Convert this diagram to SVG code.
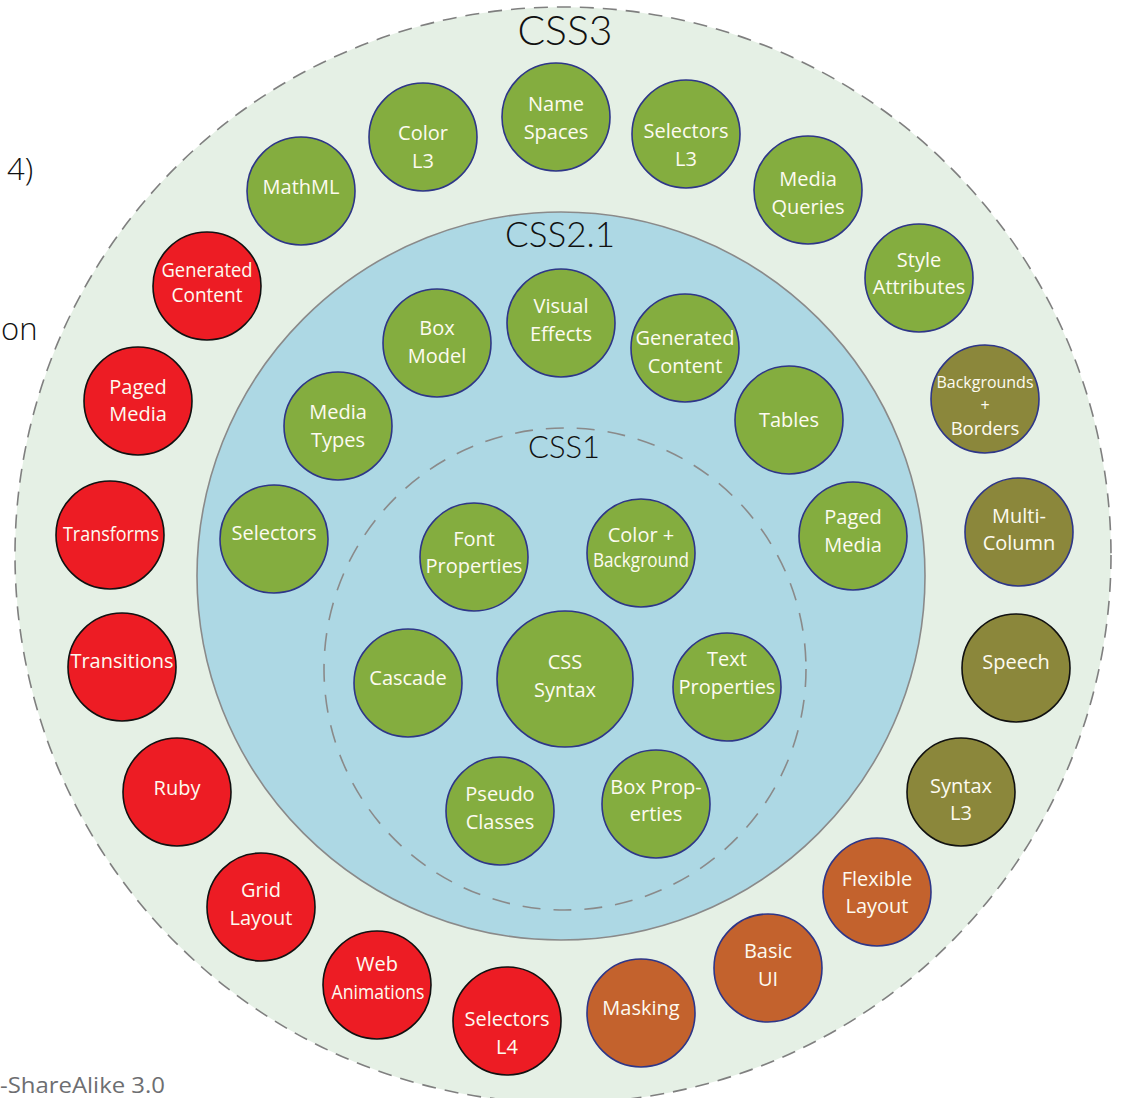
<svg xmlns="http://www.w3.org/2000/svg" width="1123" height="1098" viewBox="0 0 1123 1098">
<style>
.n{stroke:#2e3688;stroke-width:1.6}
.g{fill:#84ad3f}
.o{fill:#8b873b}
.r{fill:#ed1c24;stroke:#111}
.or{fill:#c3622d}
.k{stroke:#111}
text{font-family:"Open Sans","Liberation Sans",sans-serif}
.t{fill:#fdfbf0;font-size:20px;text-anchor:middle}
.h{font-family:Lato,"DejaVu Sans",sans-serif;font-weight:300;fill:#111;text-anchor:middle}
</style>
<rect width="1123" height="1098" fill="#fff"/>
<g id="css3-ring">
<circle cx="563" cy="555" r="548" fill="#e5f0e5" stroke="#7f7f7f" stroke-width="1.6" stroke-dasharray="14 9"/>
<text class="h" x="565" y="45" font-size="42" textLength="95" lengthAdjust="spacingAndGlyphs">CSS3</text>
</g>
<g id="css21-ring">
<circle cx="561" cy="576" r="364" fill="#add8e4" stroke="#8a8a8a" stroke-width="1.6"/>
<text class="h" x="560" y="247" font-size="35" textLength="110" lengthAdjust="spacingAndGlyphs">CSS2.1</text>
</g>
<g id="css1-ring">
<circle cx="565" cy="669" r="241" fill="none" stroke="#8a8a8a" stroke-width="1.6" stroke-dasharray="18 13"/>
<text class="h" x="564" y="458" font-size="32" textLength="72" lengthAdjust="spacingAndGlyphs">CSS1</text>
</g>
<g id="margin-text">
<text x="7" y="180" font-family="Lato,'DejaVu Sans',sans-serif" font-weight="300" font-size="31" fill="#111">4)</text>
<text x="1" y="340" font-family="Lato,'DejaVu Sans',sans-serif" font-weight="300" font-size="31" fill="#111">on</text>
<text x="0" y="1093" font-size="22" fill="#6d6e71" textLength="165" lengthAdjust="spacingAndGlyphs">-ShareAlike 3.0</text>
</g>
<!-- CSS3 nodes -->
<g id="mathml"><circle class="n g" cx="301" cy="191" r="54"/><text class="t" x="301" y="194">MathML</text></g>
<g id="color-l3"><circle class="n g" cx="423" cy="137" r="54"/><text class="t" x="423" y="140">Color</text><text class="t" x="423" y="168">L3</text></g>
<g id="name-spaces"><circle class="n g" cx="556" cy="117" r="54"/><text class="t" x="556" y="111">Name</text><text class="t" x="556" y="139">Spaces</text></g>
<g id="selectors-l3"><circle class="n g" cx="686" cy="134" r="54"/><text class="t" x="686" y="138">Selectors</text><text class="t" x="686" y="166">L3</text></g>
<g id="media-queries"><circle class="n g" cx="808" cy="190" r="54"/><text class="t" x="808" y="186">Media</text><text class="t" x="808" y="214">Queries</text></g>
<g id="style-attributes"><circle class="n g" cx="919" cy="278" r="54"/><text class="t" x="919" y="267">Style</text><text class="t" x="919" y="294">Attributes</text></g>
<g id="backgrounds-borders"><circle class="n o" cx="985" cy="399" r="54"/><text class="t"><tspan x="985" y="388" font-size="16" textLength="97" lengthAdjust="spacingAndGlyphs">Backgrounds</tspan><tspan x="985" y="411" font-size="16">+</tspan><tspan x="985" y="435" font-size="18.5">Borders</tspan></text></g>
<g id="multi-column"><circle class="n o" cx="1019" cy="532" r="54"/><text class="t" x="1019" y="523">Multi-</text><text class="t" x="1019" y="550">Column</text></g>
<g id="speech"><circle class="n o k" cx="1016" cy="668" r="54"/><text class="t" x="1016" y="669">Speech</text></g>
<g id="syntax-l3"><circle class="n o k" cx="961" cy="792" r="54"/><text class="t" x="961" y="793">Syntax</text><text class="t" x="961" y="820">L3</text></g>
<g id="flexible-layout"><circle class="n or" cx="877" cy="892" r="54"/><text class="t" x="877" y="886">Flexible</text><text class="t" x="877" y="913">Layout</text></g>
<g id="basic-ui"><circle class="n or" cx="768" cy="968" r="54"/><text class="t" x="768" y="958">Basic</text><text class="t" x="768" y="986">UI</text></g>
<g id="masking"><circle class="n or" cx="641" cy="1013" r="54"/><text class="t" x="641" y="1015">Masking</text></g>
<g id="selectors-l4"><circle class="n r" cx="507" cy="1021" r="54"/><text class="t" x="507" y="1026">Selectors</text><text class="t" x="507" y="1054">L4</text></g>
<g id="web-animations"><circle class="n r" cx="377" cy="985" r="54"/><text class="t" x="377" y="971">Web</text><text class="t" x="378" y="999" font-size="18.5" textLength="93" lengthAdjust="spacingAndGlyphs">Animations</text></g>
<g id="grid-layout"><circle class="n r" cx="261" cy="907" r="54"/><text class="t" x="261" y="897">Grid</text><text class="t" x="261" y="925">Layout</text></g>
<g id="ruby"><circle class="n r" cx="177" cy="792" r="54"/><text class="t" x="177" y="795">Ruby</text></g>
<g id="transitions"><circle class="n r" cx="122" cy="667" r="54"/><text class="t" x="122" y="668">Transitions</text></g>
<g id="transforms"><circle class="n r" cx="110" cy="535" r="54"/><text class="t" x="111" y="541" font-size="18" textLength="96" lengthAdjust="spacingAndGlyphs">Transforms</text></g>
<g id="paged-media-3"><circle class="n r" cx="138" cy="401" r="54"/><text class="t" x="138" y="394">Paged</text><text class="t" x="138" y="421">Media</text></g>
<g id="generated-content-3"><circle class="n r" cx="207" cy="286" r="54"/><text class="t" x="207" y="277" font-size="18.5" textLength="91" lengthAdjust="spacingAndGlyphs">Generated</text><text class="t" x="207" y="302" font-size="18.5" textLength="71" lengthAdjust="spacingAndGlyphs">Content</text></g>
<!-- CSS2.1 nodes -->
<g id="box-model"><circle class="n g" cx="437" cy="343" r="54"/><text class="t" x="437" y="335">Box</text><text class="t" x="437" y="363">Model</text></g>
<g id="visual-effects"><circle class="n g" cx="561" cy="323" r="54"/><text class="t" x="561" y="313">Visual</text><text class="t" x="561" y="341">Effects</text></g>
<g id="generated-content-21"><circle class="n g" cx="685" cy="348" r="54"/><text class="t" x="685" y="345">Generated</text><text class="t" x="685" y="373">Content</text></g>
<g id="media-types"><circle class="n g" cx="338" cy="426" r="54"/><text class="t" x="338" y="419">Media</text><text class="t" x="338" y="447">Types</text></g>
<g id="tables"><circle class="n g" cx="789" cy="420" r="54"/><text class="t" x="789" y="427">Tables</text></g>
<g id="selectors-21"><circle class="n g" cx="274" cy="539" r="54"/><text class="t" x="274" y="540">Selectors</text></g>
<g id="paged-media-21"><circle class="n g" cx="853" cy="536" r="54"/><text class="t" x="853" y="524">Paged</text><text class="t" x="853" y="552">Media</text></g>
<!-- CSS1 nodes -->
<g id="font-properties"><circle class="n g" cx="474" cy="557" r="54"/><text class="t" x="474" y="546">Font</text><text class="t" x="474" y="573">Properties</text></g>
<g id="color-background"><circle class="n g" cx="641" cy="553" r="54"/><text class="t" x="641" y="542">Color +</text><text class="t" x="641" y="567" font-size="16" textLength="96" lengthAdjust="spacingAndGlyphs">Background</text></g>
<g id="cascade"><circle class="n g" cx="408" cy="683" r="54"/><text class="t" x="408" y="685">Cascade</text></g>
<g id="css-syntax"><circle class="n g" cx="565" cy="679" r="68"/><text class="t" x="565" y="669">CSS</text><text class="t" x="565" y="697">Syntax</text></g>
<g id="text-properties"><circle class="n g" cx="727" cy="687" r="54"/><text class="t" x="727" y="666">Text</text><text class="t" x="727" y="694">Properties</text></g>
<g id="pseudo-classes"><circle class="n g" cx="500" cy="811" r="54"/><text class="t" x="500" y="801">Pseudo</text><text class="t" x="500" y="829">Classes</text></g>
<g id="box-properties"><circle class="n g" cx="656" cy="804" r="54"/><text class="t" x="656" y="794">Box Prop-</text><text class="t" x="656" y="821">erties</text></g>
</svg>
